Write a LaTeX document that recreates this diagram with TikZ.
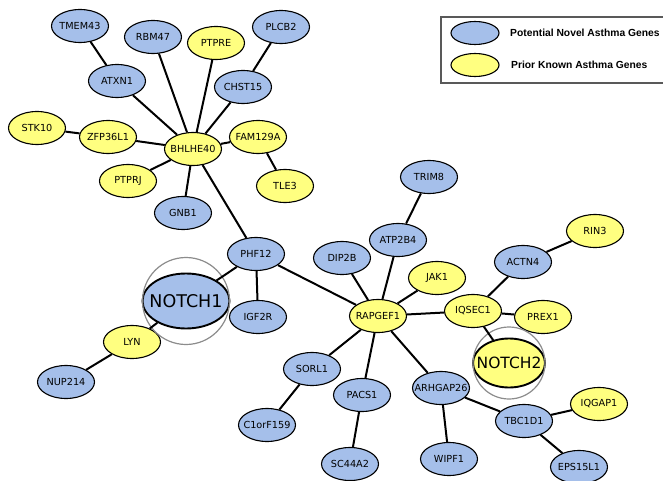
\documentclass[tikz,border=0pt]{standalone}
\usepackage{fontspec}
\newfontfamily\labfont{DejaVu Sans}
\newfontfamily\legfont{Liberation Sans}
\usetikzlibrary{shapes.geometric}
\definecolor{novel}{RGB}{165,191,234}
\definecolor{known}{RGB}{255,255,128}
\newcommand\genelabel[1]{\makebox[0pt][c]{#1}}
\tikzset{
 gene/.style={ellipse, draw=black, line width=1.1pt, minimum width=57pt, minimum height=33pt, inner sep=0pt, font=\labfont\fontsize{9.7}{10}\selectfont},
 nov/.style={gene, fill=novel},
 kno/.style={gene, fill=known},
 big/.style={line width=1.9pt, font=\labfont\fontsize{17.5}{18}\selectfont},
 link/.style={line width=2pt, black},
 ring/.style={draw=black!45, line width=1.2pt},
 legbox/.style={draw=black!65, line width=1.4pt},
 legmark/.style={ellipse, draw=black, line width=1.1pt, minimum width=48pt, minimum height=23pt, inner sep=0pt},
 legtext/.style={anchor=west, inner sep=0pt, font=\legfont\bfseries\fontsize{10.3}{12}\selectfont}
}
\begin{document}
\begin{tikzpicture}[x=1pt,y=-1pt]
\clip (0,0) rectangle (663,481);
\fill[white] (0,0) rectangle (663,481);
% legend (its right side runs off the picture)
\draw[legbox] (720,17) -- (441,17) -- (441,83) -- (720,83);
\node[legmark, fill=novel] (lnov) at (475,33) {};
\node[legmark, fill=known] (lkno) at (475,65) {};
\node[legtext] (tnov) at (510,33) {Potential Novel Asthma Genes};
\node[legtext] (tkno) at (511,65) {Prior Known Asthma Genes};
% nodes
\node[nov] (tmem43) at (80,26) {\genelabel{TMEM43}};
\node[nov] (rbm47) at (153,37) {\genelabel{RBM47}};
\node[kno] (ptpre) at (216,43) {\genelabel{PTPRE}};
\node[nov] (plcb2) at (281,27) {\genelabel{PLCB2}};
\node[nov] (atxn1) at (117,81) {\genelabel{ATXN1}};
\node[nov] (chst15) at (243,87) {\genelabel{CHST15}};
\node[kno] (stk10) at (37,128) {\genelabel{STK10}};
\node[kno] (zfp36l1) at (108,137) {\genelabel{ZFP36L1}};
\node[kno] (bhlhe40) at (193,149) {\genelabel{BHLHE40}};
\node[kno] (fam129a) at (258,137) {\genelabel{FAM129A}};
\node[kno] (ptprj) at (128,181) {\genelabel{PTPRJ}};
\node[kno] (tle3) at (285,186) {\genelabel{TLE3}};
\node[nov] (gnb1) at (183,213) {\genelabel{GNB1}};
\node[nov] (phf12) at (256,254) {\genelabel{PHF12}};
\node[nov, big, minimum width=87pt, minimum height=55pt] (notch1) at (186,301) {\genelabel{NOTCH1}};
\node[nov] (igf2r) at (258,317) {\genelabel{IGF2R}};
\node[kno] (lyn) at (132,342) {\genelabel{LYN}};
\node[nov] (nup214) at (66,382) {\genelabel{NUP214}};
\node[nov] (trim8) at (429,177) {\genelabel{TRIM8}};
\node[nov] (atp2b4) at (398,240) {\genelabel{ATP2B4}};
\node[nov] (dip2b) at (342,258) {\genelabel{DIP2B}};
\node[kno] (jak1) at (437,278) {\genelabel{JAK1}};
\node[kno] (rapgef1) at (378,316) {\genelabel{RAPGEF1}};
\node[kno] (iqsec1) at (473,311) {\genelabel{IQSEC1}};
\node[nov] (actn4) at (523,262) {\genelabel{ACTN4}};
\node[kno] (rin3) at (595,231) {\genelabel{RIN3}};
\node[kno] (prex1) at (543,317) {\genelabel{PREX1}};
\node[kno, big, minimum width=72pt, minimum height=49pt, font=\labfont\fontsize{15.5}{16}\selectfont] (notch2) at (509,363) {\genelabel{NOTCH2}};
\node[nov] (sorl1) at (312,369) {\genelabel{SORL1}};
\node[nov] (pacs1) at (362,395) {\genelabel{PACS1}};
\node[nov] (arhgap26) at (441,388) {\genelabel{ARHGAP26}};
\node[nov] (tbc1d1) at (524,421) {\genelabel{TBC1D1}};
\node[kno] (iqgap1) at (599,404) {\genelabel{IQGAP1}};
\node[nov] (wipf1) at (449,459) {\genelabel{WIPF1}};
\node[nov] (sc44a2) at (350,464) {\genelabel{SC44A2}};
\node[nov] (eps15l1) at (579,467) {\genelabel{EPS15L1}};
\node[nov] (c1orf159) at (267,425) {\genelabel{C1orF159}};
% rings
\draw[ring] (notch1.center) circle (43.5pt);
\draw[ring] (notch2.center) circle (36pt);
% edges
\draw[link] (tmem43) -- (atxn1);
\draw[link] (atxn1) -- (bhlhe40);
\draw[link] (rbm47) -- (bhlhe40);
\draw[link] (ptpre) -- (bhlhe40);
\draw[link] (plcb2) -- (chst15);
\draw[link] (chst15) -- (bhlhe40);
\draw[link] (stk10) -- (zfp36l1);
\draw[link] (zfp36l1) -- (bhlhe40);
\draw[link] (fam129a) -- (bhlhe40);
\draw[link] (fam129a) -- (tle3);
\draw[link] (ptprj) -- (bhlhe40);
\draw[link] (gnb1) -- (bhlhe40);
\draw[link] (bhlhe40) -- (phf12);
\draw[link] (phf12) -- (notch1);
\draw[link] (phf12) -- (igf2r);
\draw[link] (phf12) -- (rapgef1);
\draw[link] (notch1) -- (lyn);
\draw[link] (lyn) -- (nup214);
\draw[link] (rapgef1) -- (dip2b);
\draw[link] (rapgef1) -- (atp2b4);
\draw[link] (atp2b4) -- (trim8);
\draw[link] (rapgef1) -- (jak1);
\draw[link] (rapgef1) -- (iqsec1);
\draw[link] (iqsec1) -- (actn4);
\draw[link] (actn4) -- (rin3);
\draw[link] (iqsec1) -- (prex1);
\draw[link] (iqsec1) -- (notch2);
\draw[link] (rapgef1) -- (sorl1);
\draw[link] (sorl1) -- (c1orf159);
\draw[link] (rapgef1) -- (pacs1);
\draw[link] (pacs1) -- (sc44a2);
\draw[link] (rapgef1) -- (arhgap26);
\draw[link] (arhgap26) -- (wipf1);
\draw[link] (arhgap26) -- (tbc1d1);
\draw[link] (tbc1d1) -- (iqgap1);
\draw[link] (tbc1d1) -- (eps15l1);
\end{tikzpicture}
\end{document}
